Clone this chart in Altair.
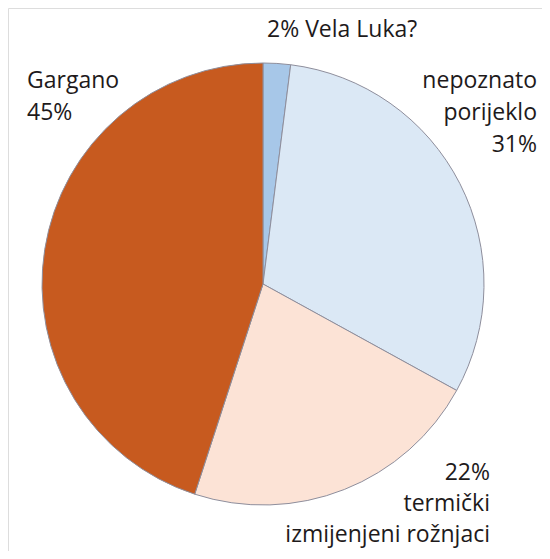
import altair as alt
import pandas as pd

categories = ["Vela Luka?", "nepoznato porijeklo", "termički izmijenjeni rožnjaci", "Gargano"]
values = [2, 31, 22, 45]
colors = ["#A7C7E8", "#DBE8F5", "#FCE3D6", "#C75A1F"]

df = pd.DataFrame({"cat": categories, "val": values, "ord": list(range(len(categories)))})

W, H = 534, 543
CX, CY, R = 255, 276, 221
FONT = "Open Sans"
FS = 23

pie = alt.Chart(df).mark_arc(stroke="#8E8E9C", strokeWidth=1).encode(
    theta=alt.Theta("val:Q", stack=True),
    order=alt.Order("ord:Q", sort="ascending"),
    color=alt.Color("cat:N", scale=alt.Scale(domain=categories, range=colors), legend=None),
    x=alt.value(CX), y=alt.value(CY), radius=alt.value(R),
)

lab_top = f"{values[0]}% {categories[0]}"
lab_garg = f"{categories[3]}\n{values[3]}%"
lab_nep = "nepoznato\nporijeklo\n" + f"{values[1]}%"
lab_term = f"{values[2]}%\ntermički\nizmijenjeni rožnjaci"

def label(txt, x, y, align, lh=32):
    return alt.Chart(pd.DataFrame({"t": [txt]})).mark_text(
        font=FONT, fontSize=FS, color="#1E1A1B", align=align, baseline="alphabetic",
        lineBreak="\n", lineHeight=lh,
    ).encode(text="t:N", x=alt.value(x), y=alt.value(y))

chart = alt.layer(
    pie,
    label(lab_top, 259, 29, "left"),
    label(lab_garg, 19, 80, "left"),
    label(lab_nep, 529, 80, "right"),
    label(lab_term, 482, 472, "right", 31),
).properties(width=W, height=H, autosize=alt.AutoSizeParams(type="none"), padding=0
).configure_view(stroke=None).configure(background="white")

chart.save("out.html", embed_options={"renderer": "svg", "actions": False})
